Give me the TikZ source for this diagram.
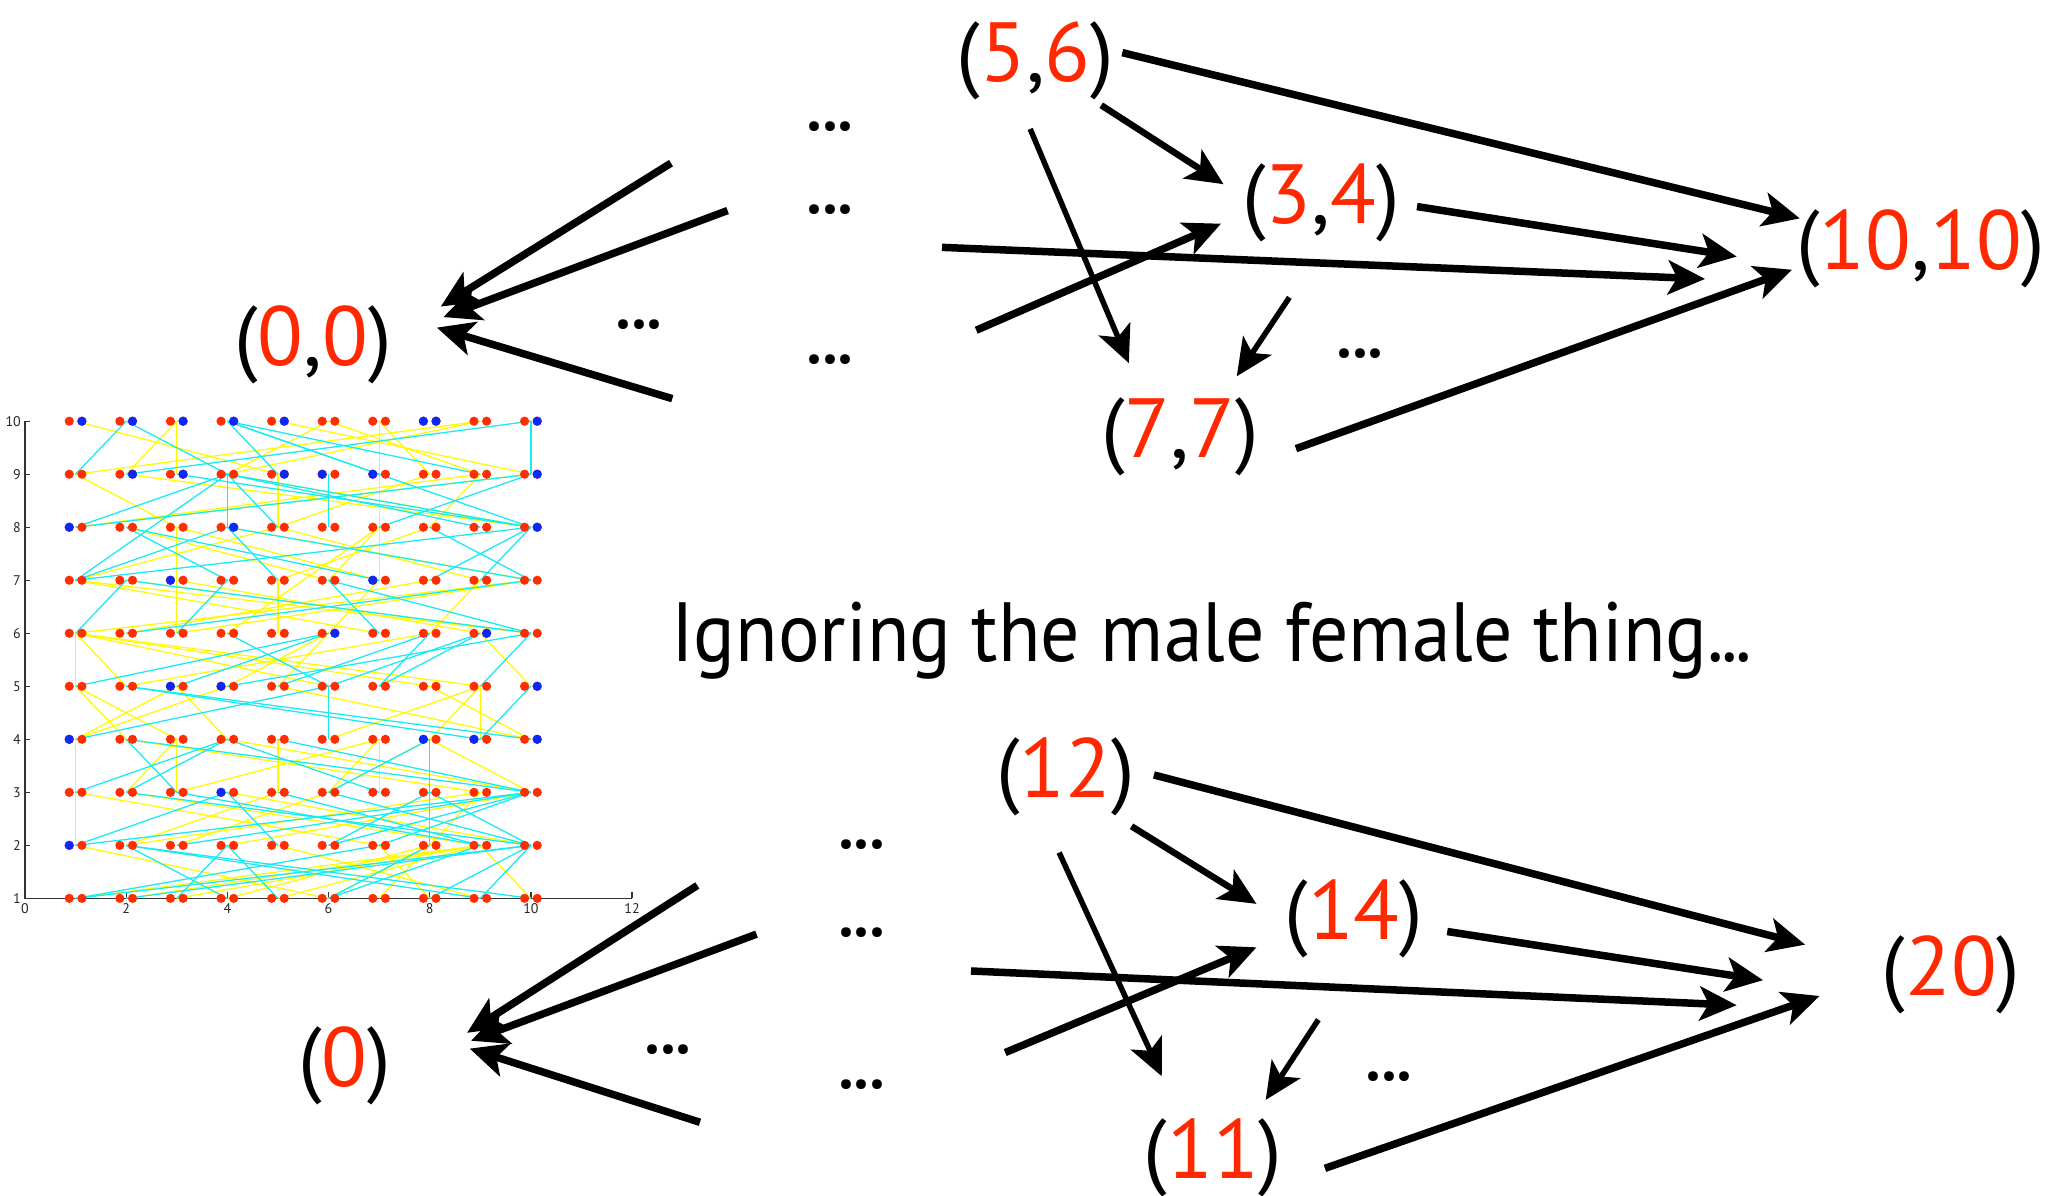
\documentclass[tikz,border=0pt]{standalone}
\usepackage{fontspec}
\setmainfont{PT Sans}
\newfontfamily\titlefont[FakeStretch=0.925]{PT Sans}
\usetikzlibrary{arrows.meta}
\definecolor{lblred}{RGB}{255,40,0}
\definecolor{dotred}{RGB}{255,45,0}
\definecolor{dotblue}{RGB}{10,40,250}
\definecolor{pyel}{RGB}{255,250,0}
\definecolor{pcyan}{RGB}{20,235,245}
\newcommand{\R}[1]{\textcolor{lblred}{#1}}
\newcommand{\eldots}{.\kern-0.03em.\kern-0.03em.}
\begin{document}
\begin{tikzpicture}[x=1.3157pt,y=-1.3157pt,
  lbl/.style={font=\fontsize{84}{90}\selectfont, inner sep=0pt, anchor=base},
  dots/.style={font=\fontsize{84}{90}\selectfont, inner sep=0pt, anchor=base},
  arr/.style={line width=7.5pt, -{Stealth[length=37pt,width=34pt,inset=9pt]}},
  thinarr/.style={arr, line width=5.5pt},
  axisln/.style={draw=black!80, line width=1.3pt},
  ticklbl/.style={font=\fontsize{14}{14}\selectfont, inner sep=1pt, text=black!85},
  yl/.style={draw=pyel, line width=1.25pt},
  cl/.style={draw=pcyan, line width=1.25pt},
]
\useasboundingbox (0,0) rectangle (1568,909);
\fill[white] (0,0) rectangle (1568,909);

% ---------- scatter plot ----------
\begin{scope}[shift={(19,723.1)}, x=50.59pt, y=53.02pt]
  \draw[axisln] (0,10) -- (0,1) -- (12,1);
  \foreach \v in {1,...,10} {
    \draw[axisln] (0,\v) -- ++(5pt,0);
    \node[ticklbl, anchor=east] at (-0.06,\v) {\v};
  }
  \foreach \u in {0,2,...,12} {
    \draw[axisln] (\u,1) -- ++(0,6pt);
    \node[ticklbl, anchor=north] at (\u,0.93) {\u};
  }
  \foreach \a/\b/\c/\d in {
    1/10/5/9, 3/10/2/9, 3/10/3/9, 1/9/3/8, 1/9/9/10, 1/8/9/9, 1/8/10/9, 5/10/10/9,
    7/10/8/9, 7/10/7/7, 9/10/4/9, 5/9/5/8, 4/9/6/10, 3/8/3/6, 5/7/5/6, 1/6/1/5,
    1/4/1/2, 3/4/3/3, 5/4/5/3, 7/4/7/3, 9/5/9/4, 1/7/5/8, 1/7/7/6, 1/7/10/6,
    2/8/6/7, 7/8/6/7, 7/8/4/6, 1/6/10/7, 1/6/9/5, 1/6/2/5, 1/6/8/5, 1/6/6/5,
    1/5/2/4, 1/5/3/4, 1/4/3/5, 1/4/4/5, 3/5/4/4, 3/4/2/3, 2/2/5/3, 3/2/6/3,
    7/4/6/3, 9/5/8/4, 10/5/9/6, 7/7/5/5, 9/2/10/1, 7/2/8/1, 1/1/9/2, 2/1/9/2,
    3/1/9/2, 5/1/9/2, 6/1/8/2, 7/1/9/3, 4/1/8/2, 2/2/9/3, 4/2/10/3, 8/4/10/3,
    2/4/9/3, 4/4/10/3, 6/4/9/5, 5/5/10/4, 3/6/10/7, 2/7/10/6, 3/7/9/6, 4/8/10/7,
    2/9/10/8, 4/9/10/8, 6/6/4/5, 2/3/9/2, 4/3/10/2, 1/3/7/2, 5/2/9/1, 6/3/8/4,
    3/3/7/4, 9/7/8/6, 5/7/8/8, 2/6/8/7, 8/9/5/8, 9/9/8/8, 1/2/6/1, 3/8/7/7,
    2/5/8/6, 5/8/9/7, 6/10/9/9, 8/5/10/4}
    \draw[yl] (\a,\b) -- (\c,\d);
  \foreach \a/\b/\c/\d in {
    1/9/2/10, 2/10/4/9, 4/10/5/9, 4/10/9/9, 4/10/10/8, 4/10/7/9, 10/10/10/9, 10/10/2/9,
    4/9/4/8, 4/9/1/8, 4/9/1/7, 4/9/5/8, 4/9/10/8, 4/9/9/8, 6/9/6/8, 1/7/4/8,
    2/8/4/7, 2/8/7/7, 4/8/5/7, 4/8/10/7, 1/6/2/7, 3/6/4/7, 2/6/10/7, 10/9/7/8,
    10/8/9/7, 8/8/10/7, 6/7/7/6, 6/7/10/6, 1/5/6/6, 1/4/6/5, 2/4/3/3, 1/3/4/4,
    2/3/4/4, 1/2/4/3, 4/3/5/2, 2/2/4/1, 4/2/3/1, 4/2/5/1, 1/1/10/2, 2/1/10/2,
    2/2/10/1, 8/4/6/3, 2/5/10/4, 9/4/10/5, 9/5/10/6, 8/6/7/5, 8/3/10/2, 10/2/9/1,
    10/2/8/1, 8/2/6/1, 6/2/8/3, 6/5/6/4, 8/4/8/2, 1/2/10/3, 3/2/10/3, 6/2/10/3,
    2/4/10/3, 5/4/10/3, 3/3/9/2, 2/3/10/2, 3/5/6/6, 4/5/10/6, 2/5/9/4, 1/8/10/9,
    2/7/10/6, 7/5/9/6, 5/5/8/6, 4/6/6/5, 9/6/6/5, 1/7/10/8, 3/9/10/8, 8/7/10/8,
    6/3/10/2, 4/4/7/3, 5/3/9/2, 7/2/10/3, 6/1/9/2, 2/2/9/1, 1/1/7/2}
    \draw[cl] (\a,\b) -- (\c,\d);
  \foreach \u in {1,...,10} \foreach \v in {1,...,10} {
    \fill[dotred] (\u-0.125,\v) circle[radius=4.6pt];
    \fill[dotred] (\u+0.125,\v) circle[radius=4.6pt];
  }
  \foreach \u/\v in {1.125/10, 2.125/10, 3.125/10, 4.125/10, 5.125/10, 7.875/10, 8.125/10, 10.125/10,
    2.125/9, 3.125/9, 5.125/9, 5.875/9, 6.875/9, 10.125/9,
    0.875/8, 4.125/8, 10.125/8, 2.875/7, 6.875/7, 6.125/6, 9.125/6,
    2.875/5, 3.875/5, 10.125/5, 0.875/4, 7.875/4, 8.875/4, 10.125/4, 3.875/3, 0.875/2}
    \fill[dotblue] (\u,\v) circle[radius=4.6pt];
\end{scope}

% ---------- top graph ----------
\node[lbl] (n56) at (787,62) {(\R{5},\R{6})};
\node[lbl] (n34) at (1004,170) {(\R{3},\R{4})};
\node[lbl] (n1010) at (1460,205) {(\R{10},\R{10})};
\node[lbl] (n00) at (238,278) {(\R{0},\R{0})};
\node[lbl] (n77) at (897,348) {(\R{7},\R{7})};
\node[dots] (d1) at (631,99) {\eldots};
\node[dots] (d2) at (631,162) {\eldots};
\node[dots] (d3) at (486,250) {\eldots};
\node[dots] (d4) at (631,276) {\eldots};
\node[dots] (d5) at (1034,272) {\eldots};

\coordinate (a1s) at (510,124);  \coordinate (a1e) at (335,233);
\coordinate (a2s) at (553,160);  \coordinate (a2e) at (337,241);
\coordinate (a3s) at (511,303);  \coordinate (a3e) at (332,249);
\coordinate (a4s) at (853,40);   \coordinate (a4e) at (1368,166);
\coordinate (a5s) at (837,80);   \coordinate (a5e) at (930,140);
\coordinate (a6s) at (783,98);   \coordinate (a6e) at (858,276);
\coordinate (a7s) at (716,188);  \coordinate (a7e) at (1296,212);
\coordinate (a8s) at (742,251);  \coordinate (a8e) at (928,170);
\coordinate (a9s) at (1077,157); \coordinate (a9e) at (1320,195);
\coordinate (a10s) at (980,226); \coordinate (a10e) at (940,286);
\coordinate (a11s) at (985,341); \coordinate (a11e) at (1362,205);
\draw[arr] (a1s) -- (a1e);
\draw[arr] (a2s) -- (a2e);
\draw[arr] (a3s) -- (a3e);
\draw[arr] (a4s) -- (a4e);
\draw[arr, line width=6.5pt] (a5s) -- (a5e);
\draw[thinarr] (a6s) -- (a6e);
\draw[arr] (a7s) -- (a7e);
\draw[arr] (a8s) -- (a8e);
\draw[arr] (a9s) -- (a9e);
\draw[thinarr] (a10s) -- (a10e);
\draw[arr] (a11s) -- (a11e);

% ---------- title ----------
\node[lbl, font=\fontsize{84}{90}\titlefont] (title) at (921,503) {Ignoring the male female thing\eldots};

% ---------- bottom graph ----------
\node[lbl] (n12) at (810,606) {(\R{12})};
\node[lbl] (n14) at (1029,714) {(\R{14})};
\node[lbl] (n20) at (1483,757) {(\R{20})};
\node[lbl] (n0) at (262,826) {(\R{0})};
\node[lbl] (n11) at (922,896) {(\R{11})};
\node[dots] (e1) at (655,645) {\eldots};
\node[dots] (e2) at (655,712) {\eldots};
\node[dots] (e3) at (508,801) {\eldots};
\node[dots] (e4) at (655,827) {\eldots};
\node[dots] (e5) at (1056,821) {\eldots};

\coordinate (b1s) at (530,673);  \coordinate (b1e) at (355,785);
\coordinate (b2s) at (575,710);  \coordinate (b2e) at (358,791);
\coordinate (b3s) at (532,853);  \coordinate (b3e) at (357,797);
\coordinate (b4s) at (877,589);  \coordinate (b4e) at (1372,718);
\coordinate (b5s) at (860,628);  \coordinate (b5e) at (955,687);
\coordinate (b6s) at (805,648);  \coordinate (b6e) at (883,818);
\coordinate (b7s) at (738,738);  \coordinate (b7e) at (1320,764);
\coordinate (b8s) at (764,800);  \coordinate (b8e) at (955,720);
\coordinate (b9s) at (1100,708); \coordinate (b9e) at (1340,745);
\coordinate (b10s) at (1002,775); \coordinate (b10e) at (962,836);
\coordinate (b11s) at (1007,888); \coordinate (b11e) at (1383,757);
\draw[arr] (b1s) -- (b1e);
\draw[arr] (b2s) -- (b2e);
\draw[arr] (b3s) -- (b3e);
\draw[arr] (b4s) -- (b4e);
\draw[arr, line width=6.5pt] (b5s) -- (b5e);
\draw[thinarr] (b6s) -- (b6e);
\draw[arr] (b7s) -- (b7e);
\draw[arr] (b8s) -- (b8e);
\draw[arr] (b9s) -- (b9e);
\draw[thinarr] (b10s) -- (b10e);
\draw[arr] (b11s) -- (b11e);
\end{tikzpicture}
\end{document}
